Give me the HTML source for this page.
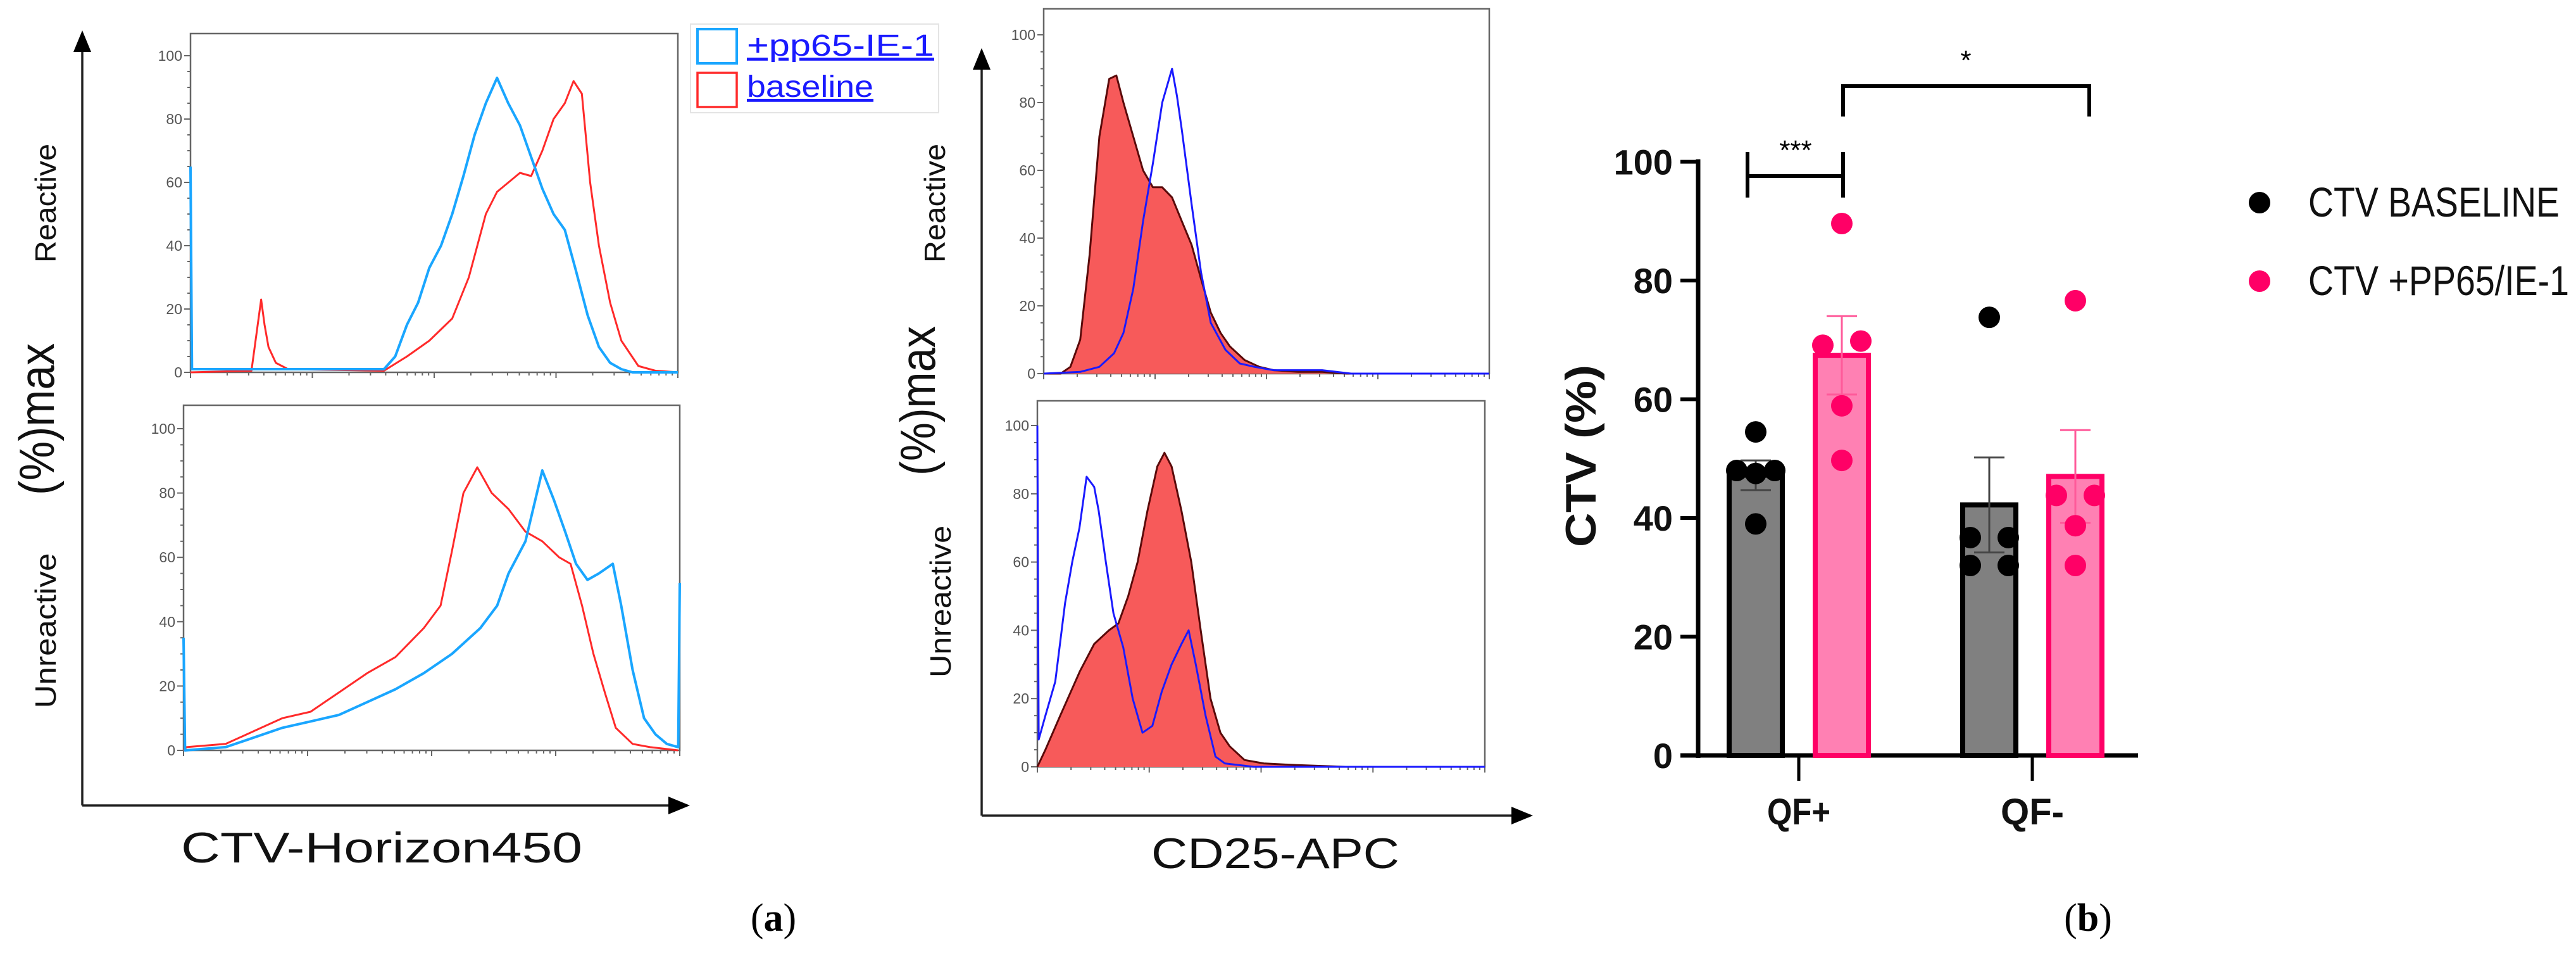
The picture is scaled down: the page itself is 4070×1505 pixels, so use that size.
<!DOCTYPE html>
<html><head><meta charset="utf-8"><style>
html,body{margin:0;padding:0;background:#fff;}
svg{display:block;font-family:"Liberation Sans",sans-serif;}
</style></head><body>
<svg id="fig" width="4070" height="1505" viewBox="0 0 4070 1505" xmlns="http://www.w3.org/2000/svg">
<defs>
<marker id="arr" markerWidth="34" markerHeight="28" refX="30" refY="14" orient="auto" markerUnits="userSpaceOnUse" viewBox="0 0 34 28"><path d="M0,0 L34,14 L0,28 z" fill="#000"/></marker>
</defs>
<g id="panelA"></g>
<g id="panelA2"></g>
<g id="panelB"></g>
<text x="1222" y="1470" font-family="Liberation Serif" font-size="62" text-anchor="middle">(<tspan font-weight="bold">a</tspan>)</text>
<text x="3299" y="1470" font-family="Liberation Serif" font-size="62" text-anchor="middle">(<tspan font-weight="bold">b</tspan>)</text>
</svg>
<script>
// ---------- histogram data (channel 0-1000, % of max) ----------
const ctvTopRedX = [0,125,145,152,160,175,200,397,444,490,537,571,606,629,676,699,722,745,768,786,803,820,838,861,884,919,954,1000];
const ctvTopRedY = [0,0.5,23,15,8,3,1,0.5,5,10,17,30,50,57,63,62,70,80,85,92,88,60,40,22,10,2,0.5,0];
const ctvTopBlueX = [0,3,100,397,420,444,467,490,514,537,560,583,606,629,652,676,699,722,745,768,791,815,838,861,884,907,1000];
const ctvTopBlueY = [65,1,1,1,5,15,22,33,40,50,62,75,85,93,85,78,68,58,50,45,32,18,8,3,1,0,0];
const ctvBotRedX = [0,6,85,142,199,256,313,370,427,484,518,541,564,592,621,655,689,723,757,780,803,826,849,871,905,940,997];
const ctvBotRedY = [0,1,2,6,10,12,18,24,29,38,45,62,80,88,80,75,68,65,60,58,45,30,18,7,2,1,0];
const ctvBotBlueX = [0,3,85,142,199,256,313,370,427,484,541,598,632,655,689,723,746,769,791,814,837,865,882,905,928,951,974,997,1000];
const ctvBotBlueY = [35,0,1,4,7,9,11,15,19,24,30,38,45,55,65,87,78,68,58,53,55,58,45,25,10,5,2,1,52];
const cdTopRedX = [0,38,60,82,103,125,147,163,179,201,223,245,266,288,310,332,353,375,397,418,451,484,516,571,625,679,1000];
const cdTopRedY = [0,0,2,10,35,70,87,88,80,70,60,55,55,52,45,38,28,18,12,8,4,2,1,0.5,0.5,0,0];
const cdTopBlueX = [0,82,125,158,179,201,223,245,266,288,299,310,332,353,375,408,440,473,516,625,690,1000];
const cdTopBlueY = [0,0.5,2,6,12,25,45,62,80,90,82,72,50,30,15,7,3,2,1,1,0,0];
const cdBotRedX = [0,18,51,95,127,160,181,203,224,246,268,284,300,322,344,365,387,409,430,463,506,581,689,1000];
const cdBotRedY = [0,5,15,28,36,40,42,50,60,75,88,92,88,75,60,40,20,10,6,2,1,0.5,0,0];
const cdBotBlueX = [0,3,18,40,62,78,94,110,127,137,153,170,192,213,235,257,278,300,322,338,354,376,398,419,484,1000];
const cdBotBlueY = [100,8,15,25,48,60,70,85,82,75,60,45,35,20,10,12,22,30,36,40,30,15,3,1,0,0];
const yTicks = [0,20,40,60,80,100];

// ---------- bar chart data ----------
const categories = ['QF+','QF-'];
const baselineMeans = [47.2, 42.2];
const pp65Means = [67.4, 47.0];
const baselineSem = [2.5, 8.0];
const pp65Sem = [6.6, 7.8];
const baselinePoints = [[54.5,48,47.5,48,39],[73.8,36.7,36.7,32,32]];
const pp65Points = [[89.6,69.1,69.8,58.9,49.7],[76.6,43.8,43.8,38.7,32]];
const barTicks = [0,20,40,60,80,100];

const NS='http://www.w3.org/2000/svg';
function mk(parent,tag,attrs,text){const e=document.createElementNS(NS,tag);for(const k in attrs)e.setAttribute(k,attrs[k]);if(text!==undefined)e.textContent=text;parent.appendChild(e);return e;}

function histPanel(g,fr,series,name){
  const sx=c=>fr.x0+(fr.x1-fr.x0)*c/1000;
  const sy=v=>fr.y0+(fr.y100-fr.y0)*v/100;
  const frame=mk(g,'rect',{x:fr.x0,y:fr.top,width:fr.x1-fr.x0,height:fr.y0-fr.top,fill:'none',stroke:'#666','stroke-width':2.5});
  
  
  for(let v=0;v<=100;v+=5){
    const major=v%20===0;
    const t=mk(g,'line',{x1:fr.x0-(major?10:5),x2:fr.x0,y1:sy(v),y2:sy(v),stroke:'#666','stroke-width':2});
    
    
  }
  yTicks.forEach(v=>{
    const t=mk(g,'text',{x:fr.x0-13,y:sy(v)+8,'font-size':23,fill:'#555','text-anchor':'end'},String(v));
    
    
  });
  [0,1,2,3,4].forEach(d=>{for(let m=1;m<10;m++){const c=d*250+250*Math.log10(m);if(c>1000)continue;
    const t=mk(g,'line',{x1:sx(c),x2:sx(c),y1:fr.y0,y2:fr.y0+(m===1?9:5),stroke:'#666','stroke-width':2});
    
    }});
  series.forEach(s=>{
    let d='';
    s.x.forEach((c,i)=>{d+=(i?'L':'M')+sx(c).toFixed(1)+','+sy(s.y[i]).toFixed(1);});
    if(s.fill){
      const a=mk(g,'path',{d:d+'L'+sx(s.x[s.x.length-1])+','+fr.y0+'L'+sx(s.x[0])+','+fr.y0+'Z',fill:s.fill,stroke:'none'});
      
      
    }
    const p=mk(g,'path',{d:d,fill:'none',stroke:s.color,'stroke-width':s.w,'stroke-linejoin':'round'});
    
    
  });
}

const A=document.getElementById('panelA');
histPanel(A,{x0:301,x1:1071,top:53,y0:588,y100:88},[
  {x:ctvTopRedX,y:ctvTopRedY,color:'#ff2a2a',w:3,name:'reactive-baseline-line'},
  {x:ctvTopBlueX,y:ctvTopBlueY,color:'#1aa6ff',w:4,name:'reactive-pp65-line'}],'ctv-reactive');
histPanel(A,{x0:290,x1:1074,top:640,y0:1185,y100:677},[
  {x:ctvBotRedX,y:ctvBotRedY,color:'#ff2a2a',w:3,name:'unreactive-baseline-line'},
  {x:ctvBotBlueX,y:ctvBotBlueY,color:'#1aa6ff',w:4,name:'unreactive-pp65-line'}],'ctv-unreactive');
const A2=document.getElementById('panelA2');
histPanel(A2,{x0:1649,x1:2353,top:14,y0:590,y100:55},[
  {x:cdTopRedX,y:cdTopRedY,color:'#5a0a0a',w:3,fill:'#f75a5a',name:'cd25-reactive-baseline'},
  {x:cdTopBlueX,y:cdTopBlueY,color:'#1a1aff',w:3,name:'cd25-reactive-pp65'}],'cd25-reactive');
histPanel(A2,{x0:1639,x1:2346,top:633,y0:1211,y100:672},[
  {x:cdBotRedX,y:cdBotRedY,color:'#5a0a0a',w:3,fill:'#f75a5a',name:'cd25-unreactive-baseline'},
  {x:cdBotBlueX,y:cdBotBlueY,color:'#1a1aff',w:3,name:'cd25-unreactive-pp65'}],'cd25-unreactive');
</script>
<script>
(function(){
const A=document.getElementById('panelA'),A2=document.getElementById('panelA2');
function ax(g,vx,vtop,vy,hx){
  const l1=mk(g,'line',{x1:vx,y1:vy,x2:vx,y2:vtop,stroke:'#222','stroke-width':3.5,'marker-end':'url(#arr)'});
  
  
  const l2=mk(g,'line',{x1:vx,y1:vy,x2:hx,y2:vy,stroke:'#222','stroke-width':3.5,'marker-end':'url(#arr)'});
  
  
}
function rot(g,x,y,txt,size,len,name){
  const t=mk(g,'text',{x:0,y:0,transform:`translate(${x},${y}) rotate(-90)`,'font-size':size,'text-anchor':'middle','dominant-baseline':'central',fill:'#111',textLength:len,lengthAdjust:'spacingAndGlyphs'},txt);
  
  
}
ax(A,130,52,1272,1086);
rot(A,58,662,'(%)max',78,240,'y-axis-title');
rot(A,72,321,'Reactive',46,188,'row-label-reactive');
rot(A,72,996,'Unreactive',46,245,'row-label-unreactive');
let t=mk(A,'text',{x:603,y:1362,'font-size':68,'text-anchor':'middle',fill:'#111',textLength:634,lengthAdjust:'spacingAndGlyphs'},'CTV-Horizon450');

const lg=mk(A,'g',{});

mk(lg,'rect',{x:1091,y:38,width:392,height:140,fill:'#fff',stroke:'#e4e4e4','stroke-width':2});
mk(lg,'rect',{x:1102,y:46,width:62,height:54,fill:'none',stroke:'#1aa6ff','stroke-width':4});
mk(lg,'rect',{x:1102,y:115,width:62,height:54,fill:'none',stroke:'#ff2a2a','stroke-width':3.5});
t=mk(lg,'text',{x:1180,y:88,'font-size':48,fill:'#1a1aff','text-decoration':'underline',textLength:296,lengthAdjust:'spacingAndGlyphs'},'+pp65-IE-1');

t=mk(lg,'text',{x:1180,y:153,'font-size':48,fill:'#1a1aff','text-decoration':'underline',textLength:200,lengthAdjust:'spacingAndGlyphs'},'baseline');


ax(A2,1551,80,1288,2418);
rot(A2,1450,633,'(%)max',78,236,'y-axis-title-cd25');
rot(A2,1477,321,'Reactive',46,188,'row-label-reactive-cd25');
rot(A2,1486,950,'Unreactive',46,240,'row-label-unreactive-cd25');
t=mk(A2,'text',{x:2015,y:1371,'font-size':68,'text-anchor':'middle',fill:'#111',textLength:392,lengthAdjust:'spacingAndGlyphs'},'CD25-APC');

})();

(function(){
const B=document.getElementById('panelB');
const y0=1193, pxPer=9.375;
const sy=v=>y0-v*pxPer;
const groupX=[2842,3211], off=68, bw=84;
const jitter=[[0,-1,0,1,0],[0,-1,1,-1,1]];
const jitterP=[[0,-1,1,0,0],[0,-1,1,0,0]];
let l=mk(B,'line',{x1:2683,y1:sy(100)-4,x2:2683,y2:y0+4,stroke:'#000','stroke-width':7});

l=mk(B,'line',{x1:2655,y1:y0,x2:3378,y2:y0,stroke:'#000','stroke-width':7});

barTicks.forEach(v=>{
  const tk=mk(B,'line',{x1:2655,x2:2683,y1:sy(v),y2:sy(v),stroke:'#000','stroke-width':6});
  
  const tl=mk(B,'text',{x:2643,y:sy(v)+20,'font-size':56,'font-weight':'bold','text-anchor':'end',fill:'#111'},String(v));
  
});
let t=mk(B,'text',{x:0,y:0,transform:'translate(2498,720) rotate(-90)','font-size':68,'font-weight':'bold','text-anchor':'middle','dominant-baseline':'central',fill:'#111',textLength:288,lengthAdjust:'spacingAndGlyphs'},'CTV (%)');

categories.forEach((c,i)=>{
  const gx=groupX[i];
  const tk=mk(B,'line',{x1:gx,x2:gx,y1:y0,y2:y0+40,stroke:'#000','stroke-width':5});
  
  const tl=mk(B,'text',{x:gx,y:1302,'font-size':58,'font-weight':'bold','text-anchor':'middle',fill:'#111',textLength:100,lengthAdjust:'spacingAndGlyphs'},c);
  
  [[baselineMeans,baselineSem,baselinePoints,'#808080','#000','#000',-off,jitter,'baseline'],
   [pp65Means,pp65Sem,pp65Points,'#ff80b3','#ff0066','#ff0066',off,jitterP,'pp65']].forEach(s=>{
    const [means,sem,pts,fill,stroke,dot,o,jit,nm]=s;
    const cx=gx+o, top=sy(means[i]);
    const r=mk(B,'rect',{x:cx-bw/2,y:top,width:bw,height:y0-top,fill:fill,stroke:stroke,'stroke-width':8});
    
    const eTop=sy(means[i]+sem[i]), eBot=sy(means[i]-sem[i]);
    const ec=nm==='pp65'?'#ff5a9a':'#444';
    const e=mk(B,'path',{d:`M${cx},${eBot}L${cx},${eTop}M${cx-24},${eTop}L${cx+24},${eTop}M${cx-24},${eBot}L${cx+24},${eBot}`,stroke:ec,'stroke-width':3,fill:'none'});
    
    pts[i].forEach((v,k)=>{
      const p=mk(B,'circle',{cx:cx+jit[i][k]*30,cy:sy(v),r:17,fill:dot});
      
    });
  });
});
let b=mk(B,'path',{d:'M2761,240L2761,312M2761,278L2912,278M2912,240L2912,312',stroke:'#000','stroke-width':6,fill:'none'});

t=mk(B,'text',{x:2837,y:252,'font-size':44,'text-anchor':'middle',fill:'#000'},'***');

b=mk(B,'path',{d:'M2912,184L2912,136L3301,136L3301,184',stroke:'#000','stroke-width':6,fill:'none'});

t=mk(B,'text',{x:3106,y:110,'font-size':44,'text-anchor':'middle',fill:'#000'},'*');

const lg=mk(B,'g',{});

mk(lg,'circle',{cx:3570,cy:320,r:17,fill:'#000'});
mk(lg,'circle',{cx:3570,cy:444,r:17,fill:'#ff0066'});
t=mk(lg,'text',{x:3647,y:342,'font-size':66,fill:'#111',textLength:397,lengthAdjust:'spacingAndGlyphs'},'CTV BASELINE');

t=mk(lg,'text',{x:3647,y:466,'font-size':66,fill:'#111',textLength:412,lengthAdjust:'spacingAndGlyphs'},'CTV +PP65/IE-1');

})();
</script>
</body></html>
